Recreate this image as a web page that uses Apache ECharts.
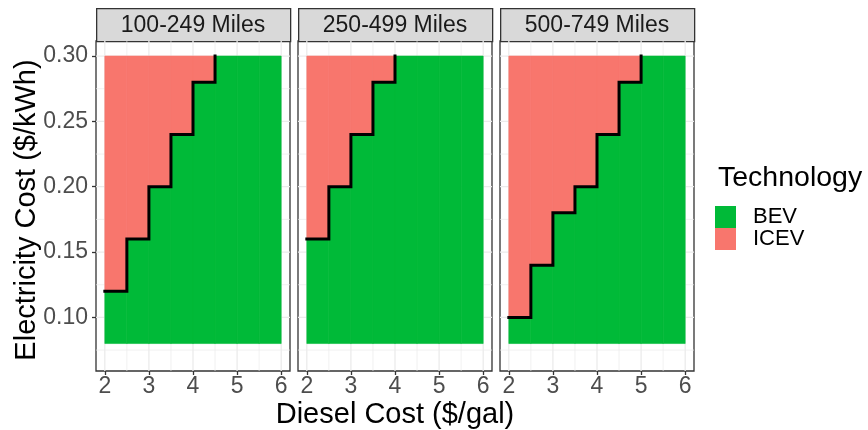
<!DOCTYPE html>
<html>
<head>
<meta charset="utf-8">
<script src="https://cdn.jsdelivr.net/npm/echarts@6/dist/echarts.min.js"></script>
<style>
  html, body { margin: 0; padding: 0; background: #ffffff; }
  #chart { width: 868px; height: 430px; }
</style>
</head>
<body>
<div id="chart"></div>
<script>
// Range facets
const facets = ['100-249 Miles', '250-499 Miles', '500-749 Miles'];

// Diesel cost bins ($/gal): left edge of each bin, bins are 0.5 wide
const dieselBins = [2, 2.5, 3, 3.5, 4, 4.5, 5, 5.5];
const binWidth = 0.5;

// Electricity cost range studied ($/kWh)
const elecLow = 0.08;
const elecHigh = 0.30;

// Break-even electricity cost per diesel bin: BEV below, ICEV above
const breakEven100 = [0.12, 0.16, 0.20, 0.24, 0.28, 0.30, 0.30, 0.30];
const breakEven250 = [0.16, 0.20, 0.24, 0.28, 0.30, 0.30, 0.30, 0.30];
const breakEven500 = [0.10, 0.14, 0.18, 0.20, 0.24, 0.28, 0.30, 0.30];
const breakEvens = [breakEven100, breakEven250, breakEven500];

// Axis breaks
const xTicks = [2, 3, 4, 5, 6];
const xMinor = [2.5, 3.5, 4.5, 5.5];
const yTicks = [0.10, 0.15, 0.20, 0.25, 0.30];
const yMinor = [0.075, 0.125, 0.175, 0.225, 0.275];

const FONT = '"Liberation Sans", Arial, Helvetica, sans-serif';
const BEV_COLOR = '#00BA38';
const ICEV_COLOR = '#F8766D';

const panelLefts = [96, 298, 500];
const panelWidth = 194;
const panelTop = 41;
const panelHeight = 330;
const stripHeight = 33;

const chart = echarts.init(document.getElementById('chart'), null, { renderer: 'canvas' });

const grids = [], xAxes = [], yAxes = [], series = [], graphics = [];

// Panel grid lines drawn through the axis scales
function gridLineSeries(i, values, vertical, width) {
  return {
    type: 'custom', xAxisIndex: i, yAxisIndex: i, silent: true, z: 1,
    data: values.map(v => [v]),
    renderItem(params, api) {
      const cs = params.coordSys;
      const v = api.value(0);
      if (vertical) {
        const x = api.coord([v, elecLow])[0];
        return { type: 'line', shape: { x1: x, y1: cs.y, x2: x, y2: cs.y + cs.height },
                 style: { stroke: '#EBEBEB', lineWidth: width } };
      }
      const y = api.coord([dieselBins[0], v])[1];
      return { type: 'line', shape: { x1: cs.x, y1: y, x2: cs.x + cs.width, y2: y },
               style: { stroke: '#EBEBEB', lineWidth: width } };
    }
  };
}

// One tile per diesel bin spanning [low, high] electricity cost
function tileRender(params, api) {
  const x0 = api.value(0), y0 = api.value(1), y1 = api.value(2);
  if (y1 <= y0) return null;
  const p0 = api.coord([x0, y1]);
  const p1 = api.coord([x0 + binWidth, y0]);
  const color = api.visual('color');
  return {
    type: 'rect',
    shape: { x: p0[0], y: p0[1], width: p1[0] - p0[0], height: p1[1] - p0[1] },
    style: { fill: color, stroke: color, lineWidth: 0.6 }
  };
}

facets.forEach((name, i) => {
  const left = panelLefts[i];
  grids.push({
    left: left, top: panelTop, width: panelWidth, height: panelHeight,
    show: true, borderColor: '#333333', borderWidth: 1.3, backgroundColor: '#ffffff',
    containLabel: false
  });
  xAxes.push({
    type: 'value', gridIndex: i, min: 1.8, max: 6.2,
    axisLine: { show: false },
    splitLine: { show: false },
    axisTick: { show: true, customValues: xTicks, length: 4, lineStyle: { color: '#333333', width: 1.3 } },
    axisLabel: { show: true, customValues: xTicks, color: '#4D4D4D', fontSize: 23, fontFamily: FONT, margin: 4 }
  });
  yAxes.push({
    type: 'value', gridIndex: i, min: 0.059, max: 0.3115,
    axisLine: { show: false },
    splitLine: { show: false },
    axisTick: { show: i === 0, customValues: yTicks, length: 4, lineStyle: { color: '#333333', width: 1.3 } },
    axisLabel: { show: i === 0, customValues: yTicks, color: '#4D4D4D', fontSize: 23, fontFamily: FONT, margin: 8,
                 formatter: v => v.toFixed(2) }
  });

  series.push(gridLineSeries(i, xMinor, true, 0.7));
  series.push(gridLineSeries(i, yMinor, false, 0.7));
  series.push(gridLineSeries(i, xTicks, true, 1.3));
  series.push(gridLineSeries(i, yTicks, false, 1.3));

  const thr = breakEvens[i];
  series.push({
    name: 'BEV', type: 'custom', xAxisIndex: i, yAxisIndex: i, z: 2,
    itemStyle: { color: BEV_COLOR },
    data: dieselBins.map((x, k) => [x, elecLow, thr[k]]),
    renderItem: tileRender
  });
  series.push({
    name: 'ICEV', type: 'custom', xAxisIndex: i, yAxisIndex: i, z: 2,
    itemStyle: { color: ICEV_COLOR },
    data: dieselBins.map((x, k) => [x, thr[k], elecHigh]),
    renderItem: tileRender
  });

  // Boundary staircase: stop at the first bin that reaches the top of the range
  const boundary = [];
  for (let k = 0; k < dieselBins.length; k++) {
    boundary.push([dieselBins[k], thr[k]]);
    if (thr[k] >= elecHigh) break;
  }
  series.push({
    type: 'line', xAxisIndex: i, yAxisIndex: i, z: 3, step: 'end',
    data: boundary, symbol: 'none', silent: true,
    lineStyle: { color: '#000000', width: 3, cap: 'square', join: 'miter' }
  });

  // Facet strip
  graphics.push({
    type: 'rect', left: left, top: panelTop - stripHeight,
    shape: { width: panelWidth, height: stripHeight },
    style: { fill: '#D9D9D9', stroke: '#333333', lineWidth: 1.3 }
  });
  graphics.push({
    type: 'text', x: left + panelWidth / 2, y: panelTop - stripHeight / 2 + 1,
    style: { text: name, fill: '#1A1A1A', fontSize: 23, fontFamily: FONT,
             align: 'center', verticalAlign: 'middle' }
  });
});

// Axis titles
graphics.push({
  type: 'text', x: 395, y: 415,
  style: { text: 'Diesel Cost ($/gal)', fill: '#000000', fontSize: 29, fontFamily: FONT,
           align: 'center', verticalAlign: 'middle' }
});
graphics.push({
  type: 'text', x: 27, y: 210, rotation: Math.PI / 2,
  style: { text: 'Electricity Cost ($/kWh)', fill: '#000000', fontSize: 29, fontFamily: FONT,
           align: 'center', verticalAlign: 'middle' }
});

// Legend title
graphics.push({
  type: 'text', x: 718, y: 178,
  style: { text: 'Technology', fill: '#000000', fontSize: 28.5, fontFamily: FONT,
           align: 'left', verticalAlign: 'middle' }
});

chart.setOption({
  animation: false,
  backgroundColor: '#ffffff',
  grid: grids,
  xAxis: xAxes,
  yAxis: yAxes,
  legend: {
    data: ['BEV', 'ICEV'],
    orient: 'vertical', left: 715, top: 206, padding: 0,
    icon: 'rect', itemWidth: 21, itemHeight: 22, itemGap: 0,
    selectedMode: false,
    textStyle: { color: '#000000', fontSize: 22, fontFamily: FONT, lineHeight: 22, padding: [0, 0, 0, 12] }
  },
  graphic: graphics,
  series: series
});
</script>
</body>
</html>
